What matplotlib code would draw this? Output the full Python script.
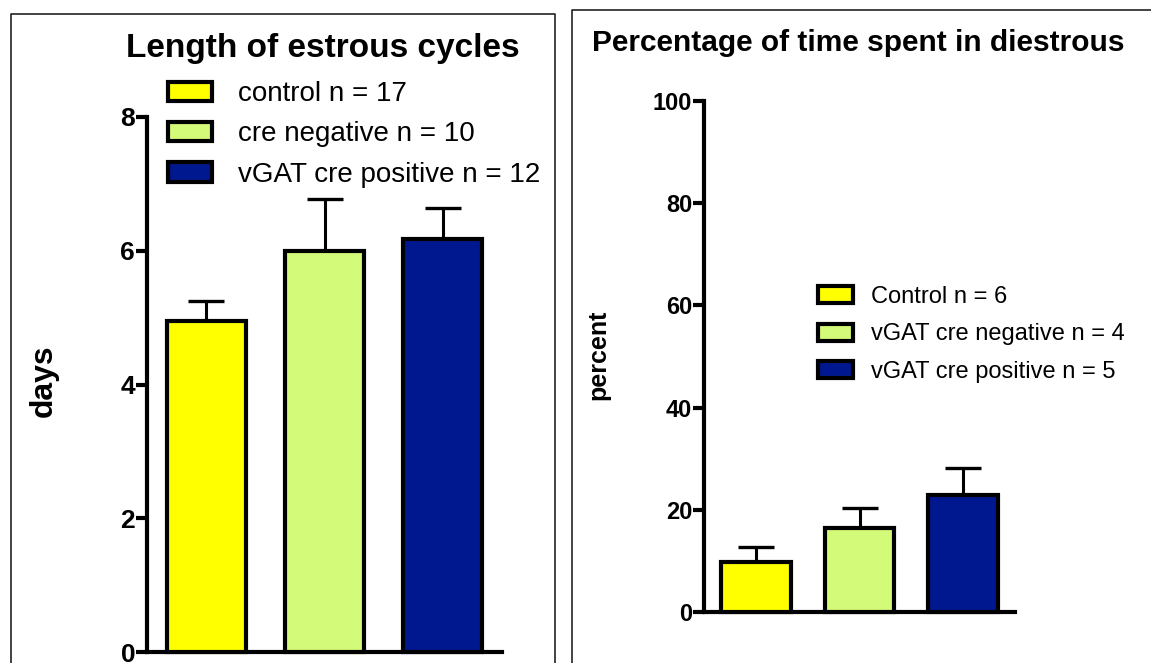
import numpy as np
import matplotlib.pyplot as plt
from matplotlib.lines import Line2D

plt.rcParams['font.family'] = ['Liberation Sans', 'DejaVu Sans']

# Length of estrous cycles (days)
cycle_labels = ['control n = 17', 'cre negative n = 10', 'vGAT cre positive n = 12']
cycle_means = [4.95, 6.0, 6.17]
cycle_sem = [0.3, 0.77, 0.47]

# Percentage of time spent in diestrous
diestrous_labels = ['Control n = 6', 'vGAT cre negative n = 4', 'vGAT cre positive n = 5']
diestrous_means = [9.8, 16.5, 22.9]
diestrous_sem = [2.9, 3.9, 5.3]

colors = ['#FFFF00', '#D4FA7A', '#00188F']

W, H = 1151, 663
fig = plt.figure(figsize=(W / 100, H / 100), dpi=100)


def px(x0, y0, x1, y1):
    # pixel box -> figure rect
    return [x0 / W, 1 - y1 / H, (x1 - x0) / W, (y1 - y0) / H]


def bar_panel(ax, means, sem, ymax, step, capsize, labelsize):
    x = np.arange(len(means))
    ax.bar(x, means, width=0.67, color=colors, edgecolor='black',
           linewidth=3, zorder=3, clip_on=False)
    ax.errorbar(x, means, yerr=[np.zeros(len(sem)), sem], fmt='none',
                ecolor='black', elinewidth=2.2, capsize=capsize,
                capthick=2.4, zorder=2, clip_on=False)
    ax.set_xlim(-0.5, 2.5)
    ax.set_ylim(0, ymax)
    ax.set_yticks(np.arange(0, ymax + 1, step))
    ax.set_xticks([])
    for s in ['top', 'right']:
        ax.spines[s].set_visible(False)
    for s in ['left', 'bottom']:
        ax.spines[s].set_linewidth(3)
    ax.tick_params(axis='y', length=8, width=3, pad=0.5, labelsize=labelsize)
    for lab in ax.get_yticklabels():
        lab.set_fontweight('bold')
    return x


# left panel
ax1 = fig.add_axes(px(147, 117, 502, 652))
bar_panel(ax1, cycle_means, cycle_sem, 8, 2, 13, 19)
handles = [plt.Rectangle((0, 0), 1, 1, facecolor=c, edgecolor='black', linewidth=3)
           for c in colors]
fig.legend(handles, cycle_labels, loc='upper left', bbox_to_anchor=(168 / W, 1 - 81 / H),
           frameon=False, fontsize=20, handlelength=1.58, handleheight=0.7,
           handletextpad=0.94, labelspacing=0.52, borderaxespad=0, borderpad=0)
fig.text(323 / W, 1 - 48 / H, 'Length of estrous cycles', ha='center', va='center',
         fontsize=24, fontweight='bold')
fig.text(44 / W, 1 - 381 / H, 'days', ha='center', va='center', rotation=90,
         fontsize=23, fontweight='bold')

# right panel
ax2 = fig.add_axes(px(704, 101, 1015, 612))
bar_panel(ax2, diestrous_means, diestrous_sem, 100, 20, 13, 17)
fig.legend(handles, diestrous_labels, loc='upper left', bbox_to_anchor=(818 / W, 1 - 286 / H),
           frameon=False, fontsize=17, handlelength=1.48, handleheight=0.72,
           handletextpad=0.76, labelspacing=0.65, borderaxespad=0, borderpad=0)
fig.text(858 / W, 1 - 43 / H, 'Percentage of time spent in diestrous', ha='center',
         va='center', fontsize=21.5, fontweight='bold')
fig.text(598 / W, 1 - 355 / H, 'percent', ha='center', va='center', rotation=90,
         fontsize=18, fontweight='bold')

# frames around each panel, open at the bottom
for x0, x1, y0 in [(10.5, 555, 14), (572, 1160, 10)]:
    fig.add_artist(Line2D([x0 / W, x0 / W, x1 / W, x1 / W], [0, 1 - y0 / H, 1 - y0 / H, 0],
                          color='#222222', linewidth=1.2))

fig.savefig('out.png', dpi=100)
